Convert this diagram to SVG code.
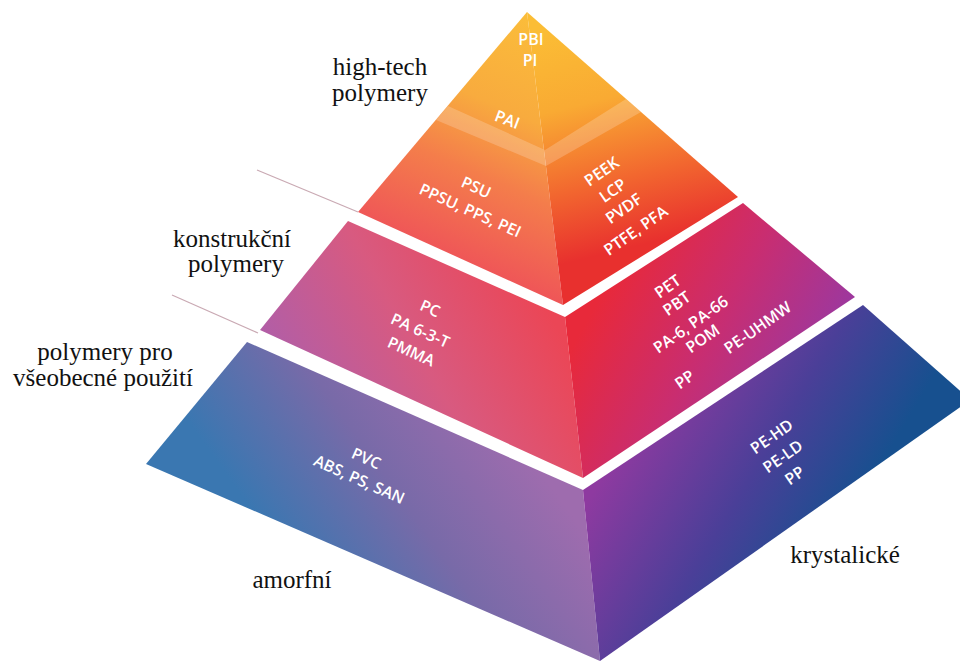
<svg xmlns="http://www.w3.org/2000/svg" width="960" height="661" viewBox="0 0 960 661">
<defs>
<linearGradient id="gTopL" gradientUnits="userSpaceOnUse" x1="527" y1="12" x2="420" y2="262">
<stop offset="0" stop-color="#fbbd3a"/><stop offset="0.36" stop-color="#f8ab3e"/><stop offset="0.62" stop-color="#f47d4b"/><stop offset="1" stop-color="#ee4e5a"/>
</linearGradient>
<linearGradient id="gTopR" gradientUnits="userSpaceOnUse" x1="545" y1="30" x2="600" y2="255">
<stop offset="0" stop-color="#fbbd35"/><stop offset="0.35" stop-color="#f9aa33"/><stop offset="0.7" stop-color="#f2672f"/><stop offset="1" stop-color="#e8302e"/>
</linearGradient>
<linearGradient id="gMidL" gradientUnits="userSpaceOnUse" x1="530" y1="280" x2="300" y2="410">
<stop offset="0" stop-color="#eb4656"/><stop offset="0.5" stop-color="#d85a80"/><stop offset="1" stop-color="#b05ea8"/>
</linearGradient>
<linearGradient id="gMidR" gradientUnits="userSpaceOnUse" x1="620" y1="260" x2="820" y2="370">
<stop offset="0" stop-color="#e8293a"/><stop offset="0.5" stop-color="#c92d70"/><stop offset="1" stop-color="#9b38a0"/>
</linearGradient>
<linearGradient id="gBotL" gradientUnits="userSpaceOnUse" x1="540" y1="470" x2="330" y2="620">
<stop offset="0" stop-color="#9e6cae"/><stop offset="0.5" stop-color="#786aa8"/><stop offset="1" stop-color="#3a77b1"/>
</linearGradient>
<linearGradient id="gBotR" gradientUnits="userSpaceOnUse" x1="600" y1="480" x2="800" y2="600">
<stop offset="0" stop-color="#8e3aa0"/><stop offset="0.55" stop-color="#4a3f98"/><stop offset="1" stop-color="#17508f"/>
</linearGradient>
<style>
.lbl{font-family:"Open Sans","DejaVu Sans",sans-serif;font-weight:600;font-size:16px;fill:#ffffff;text-anchor:middle}
.cap{font-size:25px;fill:#111111;text-anchor:middle}
.ptr{stroke:#c9a9b3;stroke-width:1.2;fill:none}
</style>
</defs>
<rect width="960" height="661" fill="#ffffff"/>

<g id="connectors">
<line class="ptr" x1="257" y1="170" x2="358" y2="212"/>
<line class="ptr" x1="172" y1="295" x2="258" y2="333"/>
</g>

<g id="tier-top">
<polygon points="527,12 358,212 563,305" fill="url(#gTopL)"/>
<polygon points="527,12 563,305 738,197" fill="url(#gTopR)"/>
<polygon points="448,106 545,150 626,99 641,112 546,166 436,120" fill="#ffffff" fill-opacity="0.2"/>
<text class="lbl" x="531" y="45">PBI</text>
<text class="lbl" x="530" y="66">PI</text>
<text class="lbl" transform="translate(507 120) rotate(21)" y="5">PAI</text>
<text class="lbl" transform="translate(476 188) rotate(24)" y="5">PSU</text>
<text class="lbl" transform="translate(470 211) rotate(24)" y="5">PPSU, PPS, PEI</text>
<text class="lbl" transform="translate(602 172) rotate(-35)" y="5">PEEK</text>
<text class="lbl" transform="translate(613 191) rotate(-35)" y="5">LCP</text>
<text class="lbl" transform="translate(624 209) rotate(-35)" y="5">PVDF</text>
<text class="lbl" transform="translate(636 231) rotate(-35)" y="5">PTFE, PFA</text>
</g>

<g id="tier-mid">
<polygon points="348,221 565,317 583,478 260,330" fill="url(#gMidL)"/>
<polygon points="565,317 743,203 855,297 583,478" fill="url(#gMidR)"/>
<text class="lbl" transform="translate(430 309) rotate(24)" y="5">PC</text>
<text class="lbl" transform="translate(420 331) rotate(24)" y="5">PA 6-3-T</text>
<text class="lbl" transform="translate(411 352) rotate(24)" y="5">PMMA</text>
<text class="lbl" transform="translate(668 287) rotate(-35)" y="5">PET</text>
<text class="lbl" transform="translate(677 304) rotate(-35)" y="5">PBT</text>
<text class="lbl" transform="translate(691 325) rotate(-35)" y="5">PA-6, PA-66</text>
<text class="lbl" transform="translate(703 339) rotate(-35)" y="5">POM</text>
<text class="lbl" transform="translate(758 328) rotate(-35)" y="5">PE-UHMW</text>
<text class="lbl" transform="translate(685 380) rotate(-35)" y="5">PP</text>
</g>

<g id="tier-bottom">
<polygon points="247,342 583,490 600,661 146,464" fill="url(#gBotL)"/>
<polygon points="583,490 863,305 966,396 966,403 600,661" fill="url(#gBotR)"/>
<text class="lbl" transform="translate(366 459) rotate(24)" y="5">PVC</text>
<text class="lbl" transform="translate(359 480) rotate(24)" y="5">ABS, PS, SAN</text>
<text class="lbl" transform="translate(772 437) rotate(-35)" y="5">PE-HD</text>
<text class="lbl" transform="translate(783 457) rotate(-35)" y="5">PE-LD</text>
<text class="lbl" transform="translate(795 476) rotate(-35)" y="5">PP</text>
</g>

<g font-family="'Liberation Serif', 'Times New Roman', 'DejaVu Serif', serif">
<g id="label-hightech">
<text class="cap" x="380" y="75">high-tech</text>
<text class="cap" x="380" y="101">polymery</text>
</g>
<g id="label-konstrukcni">
<text class="cap" x="232" y="247">konstrukční</text>
<text class="cap" x="236" y="272">polymery</text>
</g>
<g id="label-vseobecne">
<text class="cap" x="105" y="360">polymery pro</text>
<text class="cap" x="103" y="386">všeobecné použití</text>
</g>
<g id="label-amorfni">
<text class="cap" x="292" y="588">amorfní</text>
</g>
<g id="label-krystalicke">
<text class="cap" x="845" y="563">krystalické</text>
</g>
</g>
</svg>
